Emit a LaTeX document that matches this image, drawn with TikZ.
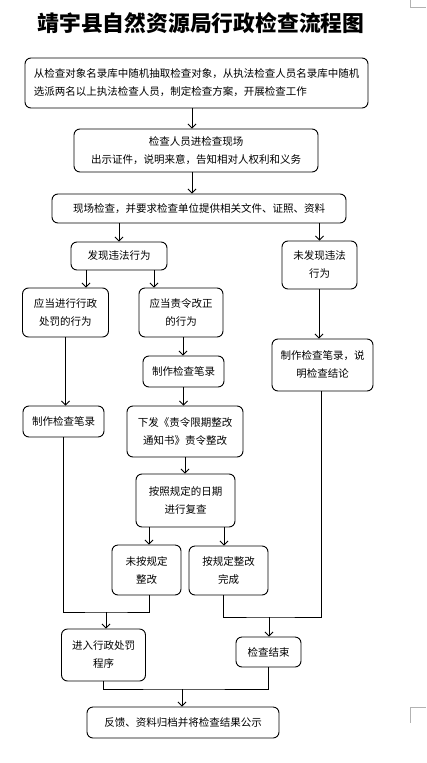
\documentclass[tikz,border=0pt]{standalone}
\usepackage{fontspec}
\setmainfont{Noto Sans CJK SC}
\usetikzlibrary{arrows.meta}

\begin{document}
\begin{tikzpicture}[x=1pt, y=-1pt,
    flowbox/.style={draw, line width=0.9pt, rounded corners=6pt, align=center,
        inner sep=0pt, font=\fontsize{10.5}{18}\selectfont},
    arrow/.style={-{Straight Barb[length=4pt, width=8pt]}, line width=0.8pt},
    link/.style={line width=0.8pt},
    ]
    \useasboundingbox (0,0) rectangle (426,763);
    \node[font=\fontsize{21.8}{26}\selectfont\bfseries] (title) at (201,23)
    {靖宇县自然资源局行政检查流程图};
    \node[flowbox, minimum width=343pt, minimum height=50pt, align=left] (plan) at (196.5,83)
    {从检查对象名录库中随机抽取检查对象，从执法检查人员名录库中随机\\选派两名以上执法检查人员，制定检查方案，开展检查工作};
    \node[flowbox, minimum width=244pt, minimum height=43pt] (arrive) at (196,150.5)
    {检查人员进检查现场\\出示证件，说明来意，告知相对人权利和义务};
    \node[flowbox, minimum width=294pt, minimum height=29pt] (inspect) at (199,208.5)
    {现场检查，并要求检查单位提供相关文件、证照、资料};
    \node[flowbox, minimum width=96pt, minimum height=28pt] (found) at (119,256)
    {发现违法行为};
    \node[flowbox, minimum width=75pt, minimum height=48pt] (notfound) at (319.5,265)
    {未发现违法\\行为};
    \node[flowbox, minimum width=86pt, minimum height=49pt] (punish) at (65.5,312.5)
    {应当进行行政\\处罚的行为};
    \node[flowbox, minimum width=84pt, minimum height=49pt] (correct) at (181,312.5)
    {应当责令改正\\的行为};
    \node[flowbox, minimum width=81pt, minimum height=31pt] (record1) at (63.5,421.5)
    {制作检查笔录};
    \node[flowbox, minimum width=81pt, minimum height=31pt] (record2) at (183.5,371.5)
    {制作检查笔录};
    \node[flowbox, minimum width=116pt, minimum height=51pt] (notice) at (185,431.5)
    {下发《责令限期整改\\通知书》责令整改};
    \node[flowbox, minimum width=99pt, minimum height=53pt] (recheck) at (185.5,500.5)
    {按照规定的日期\\进行复查};
    \node[flowbox, minimum width=69pt, minimum height=50pt] (undone) at (146.5,570)
    {未按规定\\整改};
    \node[flowbox, minimum width=79pt, minimum height=49pt] (done) at (228.5,570.5)
    {按规定整改\\完成};
    \node[flowbox, minimum width=101pt, minimum height=52pt] (conclude) at (322.5,365)
    {制作检查笔录，说\\明检查结论};
    \node[flowbox, minimum width=84pt, minimum height=52pt] (enter) at (103.5,655)
    {进入行政处罚\\程序};
    \node[flowbox, minimum width=65pt, minimum height=30pt] (finish) at (268.5,652)
    {检查结束};
    \node[flowbox, minimum width=192pt, minimum height=31pt] (publish) at (183,722.5)
    {反馈、资料归档并将检查结果公示};
    \coordinate (mergeL) at (106,612);
    \coordinate (mergeR) at (269,617);
    \coordinate (mergeB) at (182,689);
    \draw[arrow] ([xshift=-4.5pt]plan.south) -- ([xshift=-4.5pt]plan.south |- arrive.north);
    \draw[arrow] ([xshift=-4pt]arrive.south) -- ([xshift=-4pt]arrive.south |- inspect.north);
    \draw[arrow] (inspect.south -| found.north) -- (found.north);
    \draw[arrow] (inspect.south -| notfound.north) -- (notfound.north);
    \draw[arrow] ([xshift=-33pt]found.south) -- ([xshift=-33pt]found.south |- punish.north);
    \draw[arrow] ([xshift=35pt]found.south) -- ([xshift=35pt]found.south |- correct.north);
    \draw[arrow] (punish.south) -- (punish.south |- record1.north);
    \draw[arrow] ([xshift=2pt]correct.south) -- ([xshift=2pt]correct.south |- record2.north);
    \draw[arrow] (record2.south) -- (record2.south |- notice.north);
    \draw[arrow] (notice.south) -- (notice.south |- recheck.north);
    \draw[arrow] ([xshift=-36.5pt]recheck.south) -- ([xshift=-36.5pt]recheck.south |- undone.north);
    \draw[arrow] ([xshift=38.5pt]recheck.south) -- ([xshift=38.5pt]recheck.south |- done.north);
    \draw[arrow] ([xshift=-0.5pt]notfound.south) -- ([xshift=-0.5pt]notfound.south |- conclude.north);
    \draw[link] (record1.south) |- (mergeL) -| ([xshift=2.5pt]undone.south);
    \draw[arrow] (mergeL) -- (mergeL |- enter.north);
    \draw[link] ([xshift=-5.5pt]done.south) |- (mergeR) -| ([xshift=-1.5pt]conclude.south);
    \draw[arrow] (mergeR) -- (mergeR |- finish.north);
    \draw[link] (enter.south) |- (mergeB) -| (finish.south);
    \draw[arrow] (mergeB) -- (mergeB |- publish.north);
    \draw[gray!60, line width=0.5pt] (410,0) -- (410,7) -- (426,7);
    \draw[gray!60, line width=0.5pt] (426,707) -- (410,707) -- (410,723);
\end{tikzpicture}
\end{document}
